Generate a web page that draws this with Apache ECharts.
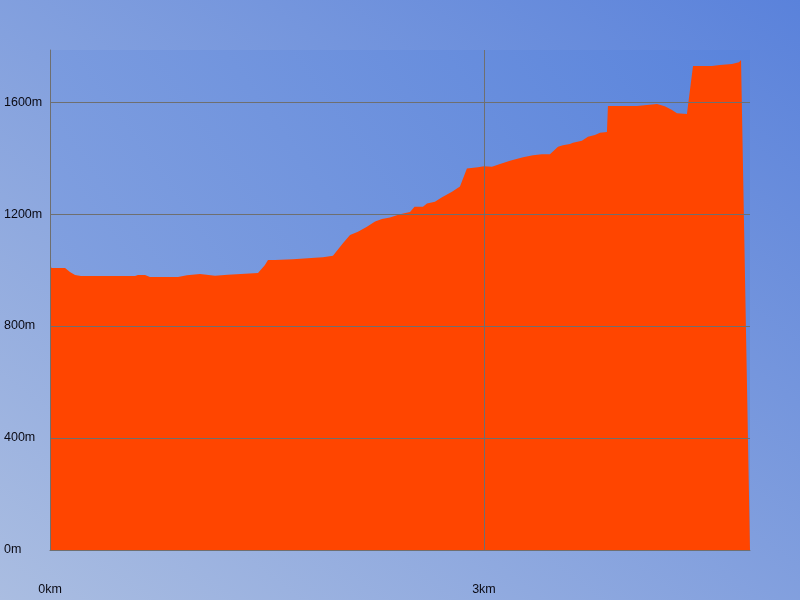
<!DOCTYPE html>
<html>
<head>
<meta charset="utf-8">
<script src="https://cdn.jsdelivr.net/npm/echarts@6/dist/echarts.min.js"></script>
<style>
html,body{margin:0;padding:0;width:800px;height:600px;overflow:hidden;}
body{background:linear-gradient(to top right,#aabde1,#5a82db);}
#c{width:800px;height:600px;}
</style>
</head>
<body>
<div id="c"></div>
<script>
// Distance (km) and elevation (m) of the profile
var distanceKm = [0,0.004,0.010,0.104,0.138,0.173,0.214,0.588,0.608,0.657,0.691,0.885,0.890,0.947,0.950,1.037,1.040,1.141,1.145,1.230,1.235,1.438,1.486,1.507,1.555,1.560,1.680,1.685,1.832,1.887,1.956,2.025,2.074,2.129,2.191,2.247,2.295,2.350,2.419,2.489,2.520,2.578,2.606,2.661,2.710,2.779,2.834,2.882,2.958,2.965,3.000,3.005,3.055,3.111,3.180,3.270,3.339,3.400,3.456,3.512,3.546,3.594,3.615,3.677,3.719,3.767,3.802,3.850,3.857,4.058,4.065,4.196,4.250,4.300,4.334,4.340,4.403,4.445,4.576,4.631,4.714,4.763,4.777,4.839];
var elevationM = [1025,1020,1007,1007,993,982,979,979,982,982,975,975,981,981,986,986,980,980,983,983,989,989,1018,1036,1036,1039,1039,1044,1044,1046,1051,1096,1125,1137,1155,1173,1182,1188,1199,1207,1226,1226,1238,1244,1260,1280,1298,1363,1367,1371,1371,1369,1369,1379,1390,1403,1410,1414,1414,1440,1446,1450,1455,1462,1476,1482,1490,1493,1586,1586,1592,1593,1585,1572,1560,1557,1557,1729,1729,1732,1736,1742,1750,0];
var yTicks = [400, 800, 1200, 1600];
var xTicks = [3];
var xMaxKm = 4.839;
var yMaxM = 1786;

var pts = distanceKm.map(function(d, i){ return [d, elevationM[i]]; });
var grid = '#6f6f6f';
var markData = yTicks.map(function(v){ return {yAxis: v}; })
  .concat(xTicks.map(function(v){ return {xAxis: v}; }));

var chart = echarts.init(document.getElementById('c'), null, {renderer: 'canvas'});
chart.setOption({
  animation: false,
  backgroundColor: 'transparent',
  textStyle: {fontFamily: 'Liberation Sans, Arial, sans-serif'},
  grid: {
    left: 50, top: 50, width: 700, height: 500,
    show: true, borderWidth: 0,
    backgroundColor: new echarts.graphic.LinearGradient(0, 1, 1, 0, [
      {offset: 0, color: '#8aa6e0'},
      {offset: 1, color: '#5a84dc'}
    ])
  },
  xAxis: {
    type: 'value', min: 0, max: xMaxKm, interval: 3, z: 5,
    axisLine: {show: true, lineStyle: {color: grid, width: 1}},
    axisTick: {show: false},
    splitLine: {show: false},
    axisLabel: {
      color: '#0a0a14', fontSize: 12.5, margin: 33, showMaxLabel: false,
      formatter: function(v){ return v + 'km'; }
    }
  },
  yAxis: {
    type: 'value', min: 0, max: yMaxM, interval: 400, z: 5,
    axisLine: {show: true, lineStyle: {color: grid, width: 1}},
    axisTick: {show: false},
    splitLine: {show: false},
    axisLabel: {
      color: '#0a0a14', fontSize: 12.5, margin: 46, align: 'left', showMaxLabel: false,
      verticalAlign: 'middle', padding: [2, 0, 0, 0],
      formatter: function(v){ return v + 'm'; }
    }
  },
  series: [{
    type: 'line',
    data: pts,
    symbol: 'none',
    smooth: false,
    lineStyle: {width: 0, color: '#ff4500'},
    itemStyle: {color: '#ff4500'},
    areaStyle: {color: '#ff4500', opacity: 1},
    markLine: {
      silent: true,
      symbol: ['none', 'none'],
      label: {show: false},
      lineStyle: {color: grid, width: 1, type: 'solid'},
      data: markData
    }
  }]
});
</script>
</body>
</html>
